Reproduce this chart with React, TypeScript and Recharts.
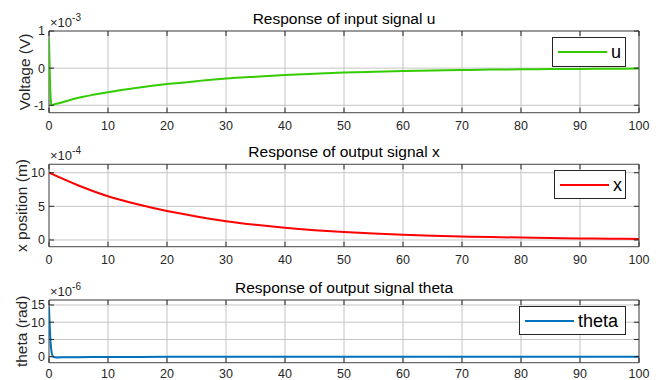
import React from "react";
import {
  CartesianGrid,
  Legend,
  Line,
  LineChart,
  ReferenceArea,
  XAxis,
  YAxis,
} from "recharts";

// time axis (s)
const TIME_TICKS = [0, 10, 20, 30, 40, 50, 60, 70, 80, 90, 100];

// input signal u, in units of 1e-3 V
const U_TIME = [0, 0.1, 0.2, 0.3, 0.45, 1, 2, 5, 10, 15, 20, 25, 30, 35, 40, 45, 50, 55, 60, 65, 70, 75, 80, 85, 90, 95, 100];
const U_VALUES = [0.8, 0.1, -0.5, -0.85, -1.0, -0.97, -0.93, -0.8, -0.65, -0.53, -0.43, -0.35, -0.28, -0.23, -0.185, -0.15, -0.12, -0.1, -0.08, -0.065, -0.05, -0.04, -0.033, -0.026, -0.02, -0.016, -0.012];
const U_TICKS = [-1, 0, 1];

// output x, in units of 1e-4 m
const X_TIME = [0, 5, 10, 15, 20, 25, 30, 35, 40, 45, 50, 55, 60, 65, 70, 75, 80, 85, 90, 95, 100];
const X_VALUES = [10, 8.1, 6.5, 5.3, 4.3, 3.5, 2.8, 2.25, 1.8, 1.45, 1.18, 0.95, 0.77, 0.63, 0.52, 0.43, 0.36, 0.29, 0.23, 0.19, 0.15];
const X_TICKS = [0, 5, 10];

// output theta, in units of 1e-6 rad
const TH_TIME = [0, 0.1, 0.2, 0.3, 0.4, 0.5, 0.7, 1, 1.5, 2, 5, 10, 20, 40, 60, 80, 100];
const TH_VALUES = [14.5, 10, 6, 3.5, 1.8, 0.8, 0, -0.2, -0.25, -0.2, -0.15, -0.1, -0.05, 0, 0, 0, 0];
const TH_TICKS = [0, 5, 10, 15];

const toRows = (t: number[], v: number[]) => t.map((ti, i) => ({ t: ti, v: v[i] }));

const FONT = "'Liberation Sans', Arial, Helvetica, sans-serif";
const INK = "#262626";
const GRID = "#c4c4c4";
const PLOT_LEFT = 49;
const PLOT_RIGHT = 639;
const PLOT_W = PLOT_RIGHT - PLOT_LEFT;
const Y_AXIS_W = 30;
const X_AXIS_H = 15;
const TICK_LEN = 5;

type PanelProps = {
  rows: { t: number; v: number }[];
  name: string;
  color: string;
  domain: [number, number];
  ticks: number[];
  top: number;
  height: number;
  plotTop: number;
  plotBottom: number;
  labelGap: number;
  legend: { left: number; width: number; height: number };
};

function Panel({ rows, name, color, domain, ticks, top, height, plotTop, plotBottom, labelGap, legend }: PanelProps) {
  const plotH = plotBottom - plotTop;

  const xTick = (p: any) => {
    const base = p.y - labelGap;
    return (
      <g>
        <line x1={p.x} x2={p.x} y1={base} y2={base - TICK_LEN} stroke={INK} />
        <line x1={p.x} x2={p.x} y1={base - plotH} y2={base - plotH + TICK_LEN} stroke={INK} />
        <text x={p.x} y={p.y} dy="0.71em" textAnchor="middle" fill={INK} fontSize={12.5} fontFamily={FONT}>
          {p.payload.value}
        </text>
      </g>
    );
  };

  const yTick = (p: any) => {
    const left = p.x + 4;
    return (
      <g>
        <line x1={left} x2={left + TICK_LEN} y1={p.y} y2={p.y} stroke={INK} />
        <line x1={left + PLOT_W} x2={left + PLOT_W - TICK_LEN} y1={p.y} y2={p.y} stroke={INK} />
        <text x={p.x} y={p.y} dy="0.355em" textAnchor="end" fill={INK} fontSize={12.5} fontFamily={FONT}>
          {p.payload.value}
        </text>
      </g>
    );
  };

  const legendBox = (props: any) => {
    const item = props.payload && props.payload[0];
    return (
      <div
        style={{
          width: legend.width,
          height: legend.height,
          boxSizing: "border-box",
          border: `1px solid ${INK}`,
          background: "#fff",
          display: "flex",
          alignItems: "center",
          paddingLeft: 5,
          fontFamily: FONT,
          fontSize: 18,
          color: "#000",
        }}
      >
        <span style={{ display: "inline-block", width: 49, height: 2, background: item ? item.color : color }} />
        <span style={{ marginLeft: 4, lineHeight: 1 }}>{item ? item.value : name}</span>
      </div>
    );
  };

  return (
    <div style={{ position: "absolute", left: 0, top, width: 662, height }}>
      <LineChart
        width={662}
        height={height}
        data={rows}
        margin={{
          top: plotTop - top,
          right: 662 - PLOT_RIGHT,
          left: PLOT_LEFT - Y_AXIS_W,
          bottom: top + height - plotBottom - X_AXIS_H,
        }}
      >
        <CartesianGrid stroke={GRID} />
        <XAxis
          dataKey="t"
          type="number"
          domain={[0, 100]}
          ticks={TIME_TICKS}
          interval={0}
          height={X_AXIS_H}
          axisLine={false}
          tickLine={false}
          tickSize={0}
          tickMargin={labelGap}
          tick={xTick}
          allowDataOverflow
        />
        <YAxis
          type="number"
          domain={domain}
          ticks={ticks}
          interval={0}
          width={Y_AXIS_W}
          axisLine={false}
          tickLine={false}
          tickSize={0}
          tickMargin={4}
          tick={yTick}
          allowDataOverflow
        />
        <ReferenceArea x1={0} x2={100} y1={domain[0]} y2={domain[1]} fill="none" stroke="#555" strokeWidth={1} />
        <Line
          type="monotone"
          dataKey="v"
          name={name}
          stroke={color}
          strokeWidth={2}
          dot={false}
          isAnimationActive={false}
        />
        <Legend
          layout="vertical"
          align="center"
          verticalAlign="middle"
          content={legendBox}
          wrapperStyle={{ position: "absolute", left: legend.left, top: plotTop - top + 6, width: legend.width, height: legend.height }}
        />
      </LineChart>
    </div>
  );
}

function Labels() {
  const panels = [
    { title: "Response of input signal u", ylabel: "Voltage (V)", exp: "-3", plotTop: 31, plotBottom: 112.7, labelX: 30 },
    { title: "Response of output signal x", ylabel: "x position (m)", exp: "-4", plotTop: 164.3, plotBottom: 246.7, labelX: 27 },
    { title: "Response of output signal theta", ylabel: "theta (rad)", exp: "-6", plotTop: 300, plotBottom: 362.7, labelX: 27 },
  ];
  return (
    <svg width={662} height={380} style={{ position: "absolute", left: 0, top: 0, pointerEvents: "none" }}>
      {panels.map((p) => {
        const cy = (p.plotTop + p.plotBottom) / 2;
        return (
          <g key={p.title} fontFamily={FONT}>
            <text x={(PLOT_LEFT + PLOT_RIGHT) / 2} y={p.plotTop - 7.5} textAnchor="middle" fontSize={15.5} fill="#000">
              {p.title}
            </text>
            <text
              x={p.labelX}
              y={cy}
              textAnchor="middle"
              fontSize={15.5}
              fill={INK}
              transform={`rotate(-90 ${p.labelX} ${cy})`}
            >
              {p.ylabel}
            </text>
            <text x={50} y={p.plotTop - 4} fontSize={13} fill={INK}>
              {"\u00d710"}
              <tspan fontSize={10} dy={-6}>
                {p.exp}
              </tspan>
            </text>
          </g>
        );
      })}
    </svg>
  );
}

export default function App() {
  return (
    <div style={{ position: "absolute", left: 0, top: 0, width: 662, height: 380, background: "#fff" }}>
      <Panel
        rows={toRows(U_TIME, U_VALUES)}
        name="u"
        color="#33cc00"
        domain={[-1.2, 1]}
        ticks={U_TICKS}
        top={0}
        height={135}
        plotTop={31}
        plotBottom={112.7}
        labelGap={8}
        legend={{ left: 552, width: 74, height: 30 }}
      />
      <Panel
        rows={toRows(X_TIME, X_VALUES)}
        name="x"
        color="#ff0000"
        domain={[-1, 11.25]}
        ticks={X_TICKS}
        top={135}
        height={135}
        plotTop={164.3}
        plotBottom={246.7}
        labelGap={8}
        legend={{ left: 554, width: 72, height: 29 }}
      />
      <Panel
        rows={toRows(TH_TIME, TH_VALUES)}
        name="theta"
        color="#0072bd"
        domain={[-1.75, 16.45]}
        ticks={TH_TICKS}
        top={270}
        height={110}
        plotTop={300}
        plotBottom={362.7}
        labelGap={6}
        legend={{ left: 519, width: 107, height: 29 }}
      />
      <Labels />
    </div>
  );
}
